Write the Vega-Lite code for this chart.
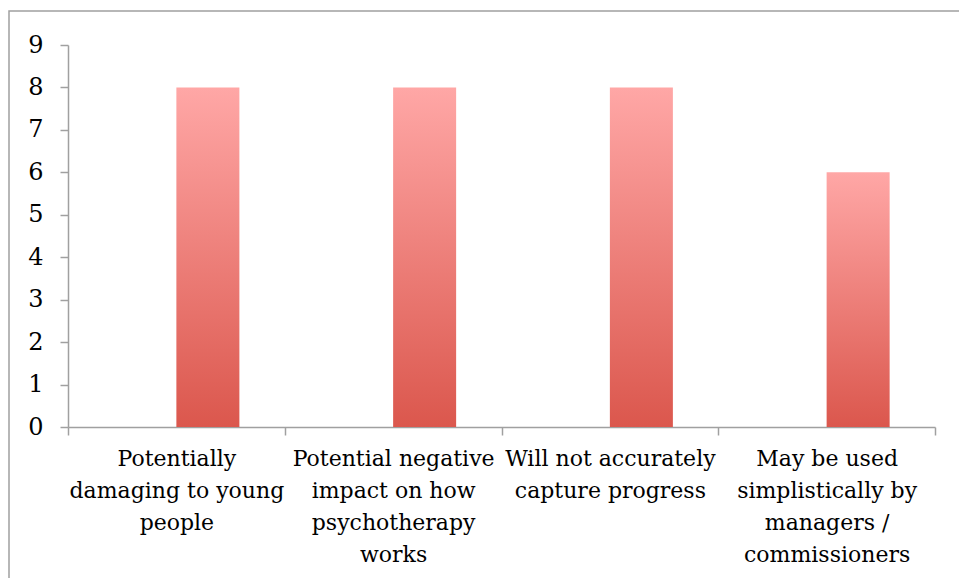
{
  "$schema": "https://vega.github.io/schema/vega-lite/v6.json",
  "autosize": {"type": "none"},
  "padding": {"left": 9, "top": 11, "right": 0, "bottom": 0},
  "width": 952,
  "height": 570,
  "background": "white",
  "config": {
    "view": {"stroke": "#a0a0a0", "strokeWidth": 1.5, "fill": "white"},
    "font": "DejaVu Serif"
  },
  "data": {
    "values": [
      {"category": "Potentially\ndamaging to young\npeople", "series": "count", "value": 8},
      {"category": "Potential negative\nimpact on how\npsychotherapy\nworks", "series": "count", "value": 8},
      {"category": "Will not accurately\ncapture progress", "series": "count", "value": 8},
      {"category": "May be used\nsimplistically by\nmanagers /\ncommissioners", "series": "count", "value": 6}
    ]
  },
  "mark": {
    "type": "bar",
    "color": {
      "gradient": "linear",
      "x1": 0, "y1": 0, "x2": 0, "y2": 1,
      "stops": [
        {"offset": 0, "color": "#ffa7a6"},
        {"offset": 1, "color": "#db574d"}
      ]
    }
  },
  "encoding": {
    "x": {
      "field": "category",
      "type": "nominal",
      "sort": null,
      "scale": {"range": [59, 926], "paddingInner": 0, "paddingOuter": 0},
      "axis": {
        "title": null,
        "orient": "bottom",
        "offset": -154,
        "labelAngle": 0,
        "labelExpr": "split(datum.label, '\\n')",
        "labelFontSize": 22,
        "labelLineHeight": 32,
        "labelColor": "black",
        "labelPadding": 13,
        "labelOverlap": false,
        "labelLimit": 0,
        "labelBound": false,
        "tickBand": "extent",
        "tickSize": 8,
        "tickColor": "#a0a0a0",
        "tickWidth": 1.5,
        "domainColor": "#a0a0a0",
        "domainWidth": 1.5,
        "grid": false
      }
    },
    "xOffset": {
      "field": "series",
      "type": "nominal",
      "scale": {"domain": ["none", "count"], "paddingInner": 0, "paddingOuter": 0.72}
    },
    "y": {
      "field": "value",
      "type": "quantitative",
      "scale": {"domain": [0, 9], "range": [416, 34], "nice": false},
      "axis": {
        "title": null,
        "offset": -59,
        "values": [0, 1, 2, 3, 4, 5, 6, 7, 8, 9],
        "labelFontSize": 24,
        "labelColor": "black",
        "labelPadding": 17,
        "tickSize": 8,
        "tickColor": "#a0a0a0",
        "tickWidth": 1.5,
        "domainColor": "#a0a0a0",
        "domainWidth": 1.5,
        "grid": false
      }
    }
  }
}
